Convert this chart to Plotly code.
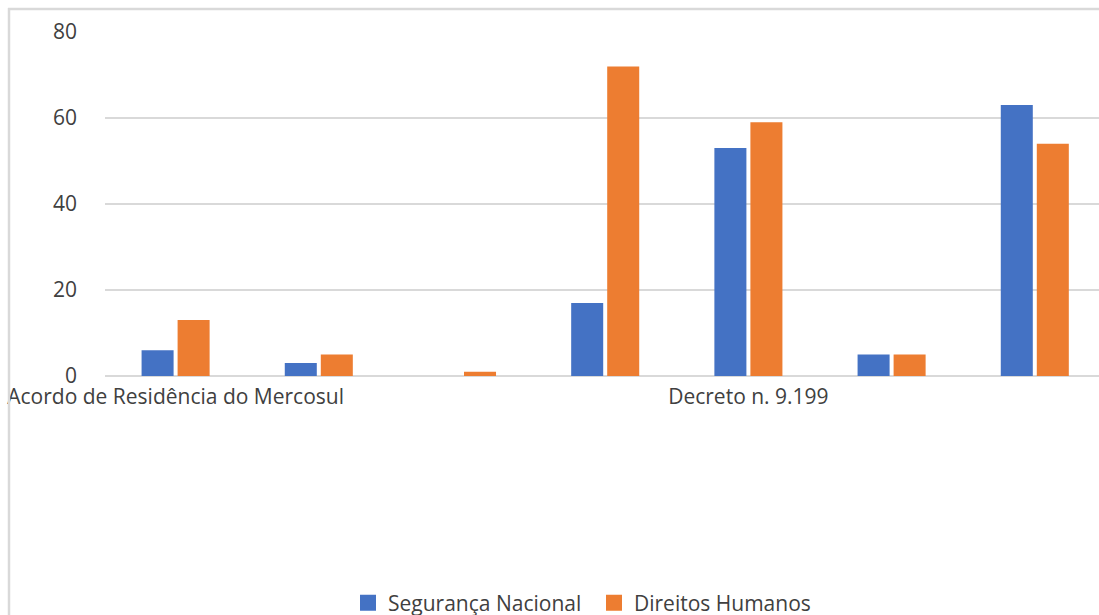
import plotly.graph_objects as go

# Data
category_labels = ["Acordo de Residência do Mercosul", "", "", "", "Decreto n. 9.199", "", ""]
seguranca_nacional = [6, 3, 0, 17, 53, 5, 63]
direitos_humanos = [13, 5, 1, 72, 59, 5, 54]
series_names = ["Segurança Nacional", "Direitos Humanos"]
series_colors = ["#4472C4", "#ED7D31"]
y_ticks = [0, 20, 40, 60, 80]

W, H = 1099, 615
ML, MR, MT, MB = 105, 0, 32, 239
PW, PH = W - ML - MR, H - MT - MB

def px_x(x):
    return (x - ML) / PW

def px_y(y):
    return (H - MB - y) / PH

FONT = "Open Sans"
FS = 21
TXT = "#404040"

x_idx = list(range(len(category_labels)))

fig = go.Figure()
for name, vals, col in zip(series_names, [seguranca_nacional, direitos_humanos], series_colors):
    fig.add_trace(go.Bar(x=x_idx, y=vals, name=name, showlegend=False,
                         marker=dict(color=col, line=dict(width=0))))
# legend entries with larger square swatches
for name, col in zip(series_names, series_colors):
    fig.add_trace(go.Scatter(x=[None], y=[None], mode="markers", name=name,
                             marker=dict(symbol="square", size=16, color=col)))

tickvals = [i for i, l in enumerate(category_labels) if l]
ticktext = [l for l in category_labels if l]

x0 = -0.5 + 1 / 143.2

fig.update_layout(
    width=W, height=H,
    margin=dict(l=ML, r=MR, t=MT, b=MB, pad=0, autoexpand=False),
    plot_bgcolor="white", paper_bgcolor="white",
    barmode="group", bargap=0.497, bargroupgap=0.111,
    font=dict(family=FONT, size=FS, color=TXT),
    showlegend=True,
    legend=dict(orientation="h", x=px_x(594), y=px_y(603), xanchor="center", yanchor="middle",
                font=dict(family=FONT, size=FS, color=TXT),
                entrywidth=201, entrywidthmode="pixels",
                traceorder="normal", itemclick=False, itemdoubleclick=False),
    xaxis=dict(range=[x0, x0 + PW / 143.2], tickvals=tickvals, ticktext=ticktext,
               showgrid=False, zeroline=False, showline=False, ticks="",
               ticklabelstandoff=6, automargin=False,
               tickfont=dict(family=FONT, size=FS, color=TXT), tickangle=0, fixedrange=True),
    yaxis=dict(range=[0, 80], tickvals=y_ticks, showgrid=True, gridcolor="#D9D9D9", gridwidth=1.5,
               zeroline=True, zerolinecolor="#D9D9D9", zerolinewidth=1.5, showline=False,
               ticks="", ticklabelstandoff=27, automargin=False,
               tickfont=dict(family=FONT, size=FS, color=TXT), fixedrange=True),
    shapes=[
        dict(type="line", xref="paper", yref="paper", x0=px_x(9), x1=px_x(9),
             y0=px_y(8), y1=px_y(H + 5), line=dict(color="#D9D9D9", width=2.5)),
        dict(type="line", xref="paper", yref="paper", x0=px_x(8), x1=px_x(W + 5),
             y0=px_y(9), y1=px_y(9), line=dict(color="#D9D9D9", width=2.5)),
    ],
)

fig.write_html("out.html")
